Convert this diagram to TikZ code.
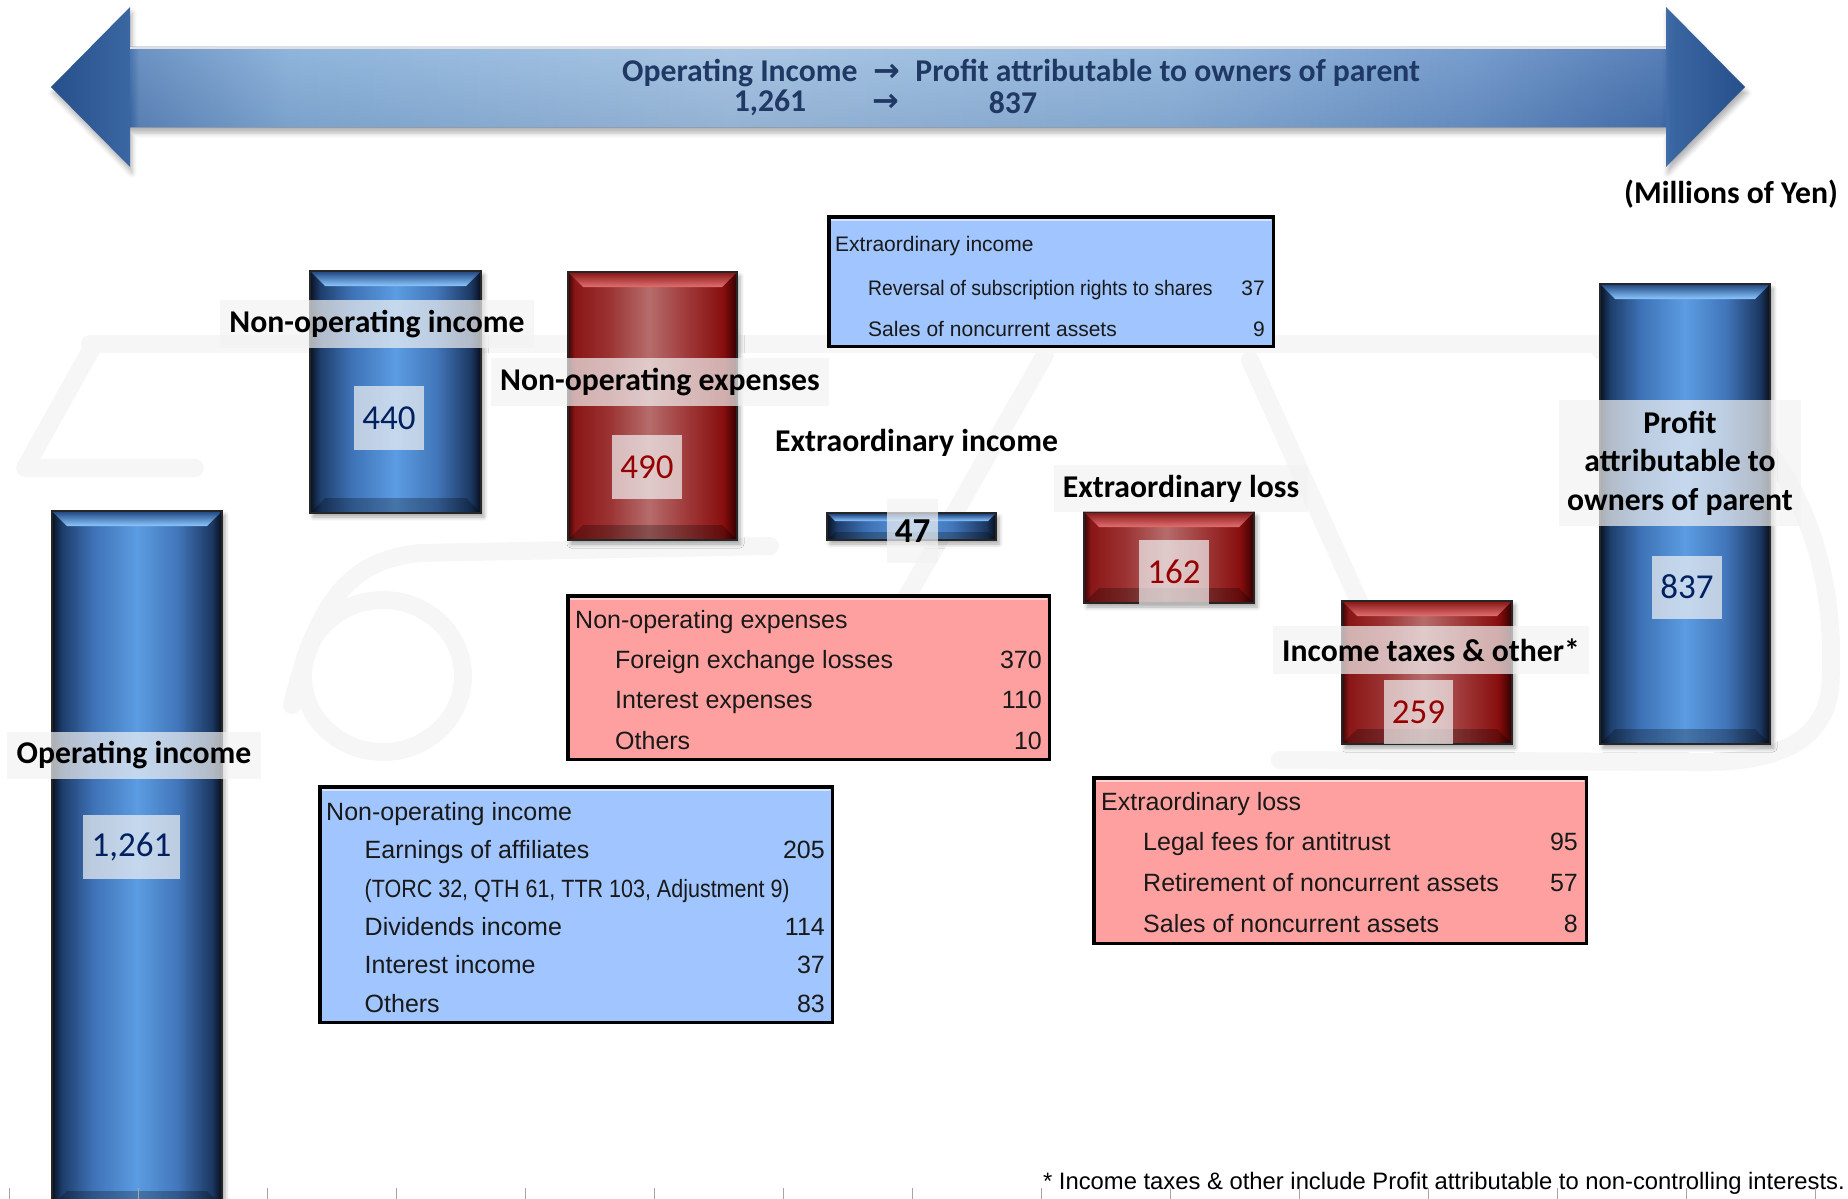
\documentclass[tikz,border=0pt]{standalone}
\usepackage{fontspec}
\setmainfont{Carlito}
\newfontfamily\arrowfont{DejaVu Sans}
\newfontfamily\boxfont{Liberation Sans}
\usetikzlibrary{shadows.blur}

\definecolor{navy}{RGB}{31,56,100}
\definecolor{valblue}{RGB}{0,32,96}
\definecolor{valred}{RGB}{150,0,0}
\definecolor{boxblue}{RGB}{160,197,255}
\definecolor{boxpink}{RGB}{255,160,160}
\definecolor{lblfill}{RGB}{242,242,242}
\definecolor{wmark}{RGB}{246,246,246}

\definecolor{bA}{RGB}{8,18,34}
\definecolor{bB}{RGB}{30,62,108}
\definecolor{bC}{RGB}{62,114,182}
\definecolor{bD}{RGB}{92,156,226}
\definecolor{bE}{RGB}{66,118,186}
\definecolor{bF}{RGB}{28,56,98}
\definecolor{bG}{RGB}{6,14,26}
\pgfdeclarehorizontalshading{bluebar}{100bp}{color(0bp)=(bA); color(25bp)=(bA); color(28bp)=(bB); color(37bp)=(bC); color(50bp)=(bD); color(62bp)=(bE); color(72bp)=(bF); color(75bp)=(bG); color(100bp)=(bG)}

\definecolor{rA}{RGB}{60,5,5}
\definecolor{rB}{RGB}{138,22,22}
\definecolor{rC}{RGB}{155,50,50}
\definecolor{rD}{RGB}{182,108,108}
\definecolor{rE}{RGB}{160,58,58}
\definecolor{rF}{RGB}{135,14,14}
\definecolor{rG}{RGB}{50,0,0}
\pgfdeclarehorizontalshading{redbar}{100bp}{color(0bp)=(rA); color(25bp)=(rA); color(27bp)=(rB); color(37bp)=(rC); color(49bp)=(rD); color(60bp)=(rE); color(71bp)=(rF); color(75bp)=(rG); color(100bp)=(rG)}

\definecolor{bluetop}{RGB}{38,78,136}
\definecolor{bluehi}{RGB}{140,200,255}
\definecolor{redtop}{RGB}{140,28,28}
\definecolor{redhi}{RGB}{226,112,112}

\definecolor{aA}{RGB}{38,80,140}
\definecolor{aB}{RGB}{58,102,162}
\definecolor{aB2}{RGB}{106,144,192}
\definecolor{aC}{RGB}{152,190,225}
\definecolor{aD}{RGB}{186,212,236}
\definecolor{aE}{RGB}{162,196,228}
\definecolor{aF}{RGB}{120,158,206}
\definecolor{aG}{RGB}{78,118,176}
\pgfdeclarehorizontalshading{arrowsh}{100bp}{color(0bp)=(aA); color(25bp)=(aA); color(27.3bp)=(aB); color(27.6bp)=(aB2); color(32bp)=(aC); color(45bp)=(aD); color(58bp)=(aE); color(67bp)=(aF); color(72.5bp)=(aG); color(72.8bp)=(aB); color(75bp)=(aA); color(100bp)=(aA)}

\newcommand{\fsz}[2]{\fontsize{#1}{#2}\selectfont}
\newcommand{\lblfont}{\fsz{31.7}{38.5}\bfseries}
\newcommand{\valfont}{\fsz{35}{38}}
\newcommand{\bxfont}{\boxfont\fsz{25}{28}}
\newcommand{\bxsmall}{\boxfont\fsz{21}{24}}
\newcommand{\bigarrow}{{\arrowfont\bfseries\fsz{32}{32}→}}

\newcommand{\barbox}[7]{%
  \node[bar#6, anchor=north west, minimum width={(#4)-(#2)}, minimum height={(#5)-(#3)}] (#1) at (#2,#3) {};
  \shade[top color=#6top, bottom color=#6hi]
    ([xshift=1.2pt,yshift=-1.2pt]#1.north west) -- ([xshift=-1.2pt,yshift=-1.2pt]#1.north east)
    -- ([xshift=-#7pt,yshift=-#7pt]#1.north east) -- ([xshift=#7pt,yshift=-#7pt]#1.north west) -- cycle;
  \fill[black, opacity=0.25]
    ([xshift=1.2pt,yshift=1.2pt]#1.south west) -- ([xshift=-1.2pt,yshift=1.2pt]#1.south east)
    -- ([xshift=-#7pt,yshift=#7pt]#1.south east) -- ([xshift=#7pt,yshift=#7pt]#1.south west) -- cycle;
}

\tikzset{
  barblue/.style={shading=bluebar, draw=black!85, line width=1.2pt, inner sep=0, outer sep=0,
    blur shadow={shadow xshift=3pt, shadow yshift=-4pt, shadow blur radius=4pt, shadow opacity=35}},
  barred/.style={shading=redbar, draw=black!85, line width=1.2pt, inner sep=0, outer sep=0,
    blur shadow={shadow xshift=3pt, shadow yshift=-4pt, shadow blur radius=4pt, shadow opacity=35}},
  lbl/.style={fill=lblfill, fill opacity=0.7, text opacity=1, inner sep=0, font=\lblfont, align=center},
  val/.style={fill=lblfill, fill opacity=0.7, text opacity=1, inner sep=0, font=\valfont},
  dbox/.style={draw=black, line width=3.5pt, inner sep=0, outer sep=0, anchor=north west},
  dt/.style={inner sep=0, anchor=mid west, font=\bxfont, text=black!90},
  dv/.style={inner sep=0, anchor=mid east, font=\bxfont, text=black!90},
  dts/.style={inner sep=0, anchor=mid west, font=\bxsmall, text=black!90},
  dvs/.style={inner sep=0, anchor=mid east, font=\bxsmall, text=black!90},
  wm/.style={draw=wmark, line width=18pt, line cap=round, line join=round},
}

\begin{document}
\begin{tikzpicture}[x=1pt, y=-1pt]
\useasboundingbox (0,0) rectangle (1848,1199);

% faint background watermark
\draw[wm] (90,344) -- (1600,344);
\draw[wm] (92,348) -- (25,468) -- (195,468);
\draw[wm] (383,676) ellipse [x radius=80, y radius=76];
\draw[wm] (292,705) .. controls (318,600) and (350,560) .. (420,553) -- (770,546);
\draw[wm] (1045,355) -- (905,600);
\draw[wm] (1250,360) -- (1372,630);
\draw[wm] (1600,350) .. controls (1760,380) and (1842,520) .. (1830,690)
  .. controls (1822,750) and (1760,764) .. (1690,762) -- (1280,760);

% top double arrow
\shade[shading=arrowsh, blur shadow={shadow xshift=2pt, shadow yshift=-6pt, shadow blur radius=5pt, shadow opacity=30}]
  (51,87) -- (130,7) -- (130,47) -- (1666,47) -- (1666,7) -- (1745,87) -- (1666,167) -- (1666,127) -- (130,127) -- (130,167) -- cycle;
\shade[top color=aF, middle color=white, bottom color=aA, opacity=0.25] (130,47) rectangle (1666,127);
\draw[white!75!gray, line width=2pt] (130,48.5) -- (1666,48.5);

\node[anchor=mid west, inner sep=0, font=\lblfont, text=navy] (t1) at (622,79)
  {Operating Income\hspace{16pt}\bigarrow\hspace{15pt}Profit attributable to owners of parent};
\node[inner sep=0, font=\lblfont, text=navy] (t2a) at (770,103) {1,261};
\node[inner sep=0, text=navy] (t2b) at (886,103) {\bigarrow};
\node[inner sep=0, font=\lblfont, text=navy] (t2c) at (1013,103) {837};

\node[inner sep=0, font=\lblfont] (unit) at (1731,194) {(Millions of Yen)};

% bars
\barbox{b1}{52}{511}{222}{1206}{blue}{15}
\barbox{b2}{310}{271}{481}{513}{blue}{15}
\barbox{b3}{568}{272}{737}{540}{red}{15}
\barbox{b4}{827}{513}{996}{540}{blue}{8}
\barbox{b5}{1084}{512}{1254}{603}{red}{15}
\barbox{b6}{1342}{601}{1512}{744}{red}{15}
\barbox{b7}{1600}{284}{1770}{744}{blue}{15}

% detail boxes
\node[dbox, fill=boxblue, minimum width=444.5, minimum height=129.5] (bxA) at (828.75,216.75) {};
\draw[white, opacity=0.55, line width=2pt] ([xshift=2.5pt,yshift=-3pt]bxA.north west) -- ([xshift=-2.5pt,yshift=-3pt]bxA.north east);
\node[dts] (a0) at (835,249) {Extraordinary income};
\node[dts] (a1) at (868,293) {\scalebox{0.922}[1]{Reversal of subscription rights to shares}};
\node[dvs] (a1v) at (1265,293) {37};
\node[dts] (a2) at (868,334) {Sales of noncurrent assets};
\node[dvs] (a2v) at (1265,334) {9};

\node[dbox, fill=boxpink, minimum width=481.5, minimum height=163.5] (bxB) at (567.75,595.75) {};
\draw[white, opacity=0.55, line width=2pt] ([xshift=2.5pt,yshift=-3pt]bxB.north west) -- ([xshift=-2.5pt,yshift=-3pt]bxB.north east);
\node[dt] (n0) at (575,626) {Non-operating expenses};
\node[dt] (n1) at (615,666.5) {Foreign exchange losses};
\node[dv] (n1v) at (1042,666.5) {370};
\node[dt] (n2) at (615,706.6) {Interest expenses};
\node[dv] (n2v) at (1042,706.6) {110};
\node[dt] (n3) at (615,746.7) {Others};
\node[dv] (n3v) at (1042,746.7) {10};

\node[dbox, fill=boxblue, minimum width=512.5, minimum height=235.5] (bxC) at (319.75,786.75) {};
\draw[white, opacity=0.55, line width=2pt] ([xshift=2.5pt,yshift=-3pt]bxC.north west) -- ([xshift=-2.5pt,yshift=-3pt]bxC.north east);
\node[dt] (c0) at (326,818) {Non-operating income};
\node[dt] (c1) at (364.5,856) {Earnings of affiliates};
\node[dv] (c1v) at (825,856) {205};
\node[dt] (c2) at (364.5,895) {\scalebox{0.86}[1]{(TORC 32, QTH 61, TTR 103, Adjustment 9)}};
\node[dt] (c3) at (364.5,933) {Dividends income};
\node[dv] (c3v) at (825,933) {114};
\node[dt] (c4) at (364.5,971) {Interest income};
\node[dv] (c4v) at (825,971) {37};
\node[dt] (c5) at (364.5,1010) {Others};
\node[dv] (c5v) at (825,1010) {83};

\node[dbox, fill=boxpink, minimum width=492.5, minimum height=165.5] (bxD) at (1093.75,777.75) {};
\draw[white, opacity=0.55, line width=2pt] ([xshift=2.5pt,yshift=-3pt]bxD.north west) -- ([xshift=-2.5pt,yshift=-3pt]bxD.north east);
\node[dt] (d0) at (1101,808.5) {Extraordinary loss};
\node[dt] (d1) at (1143,848) {Legal fees for antitrust};
\node[dv] (d1v) at (1578,848) {95};
\node[dt] (d2) at (1143,889) {Retirement of noncurrent assets};
\node[dv] (d2v) at (1578,889) {57};
\node[dt] (d3) at (1143,930.6) {Sales of noncurrent assets};
\node[dv] (d3v) at (1578,930.6) {8};

% labels on bars
\node[lbl, minimum width=254, minimum height=47] (l1) at (134,755) {Operating income};
\node[val, minimum width=97, minimum height=64, text=valblue] (v1) at (131.5,847) {1,261};
\node[lbl, minimum width=314, minimum height=48] (l2) at (377,324) {Non-operating income};
\node[val, minimum width=70, minimum height=64, text=valblue] (v2) at (389,418) {440};
\node[lbl, minimum width=338, minimum height=48] (l3) at (660,382) {Non-operating expenses};
\node[val, minimum width=70, minimum height=64, text=valred] (v3) at (647,467) {490};
\node[inner sep=0, font=\lblfont] (l4) at (916.5,443) {Extraordinary income};
\node[val, minimum width=51, minimum height=64, text=black, font=\valfont\bfseries] (v4) at (912.5,531) {47};
\node[lbl, minimum width=254, minimum height=47] (l5) at (1181,488.5) {Extraordinary loss};
\node[val, minimum width=70, minimum height=64, text=valred] (v5) at (1174,572) {162};
\node[lbl, minimum width=316, minimum height=48] (l6) at (1431,650) {Income taxes \& other*};
\node[val, minimum width=69, minimum height=64, text=valred] (v6) at (1418.5,712) {259};
\node[lbl, minimum width=242, minimum height=126] (l7) at (1680,463) {Profit\\attributable to\\owners of parent};
\node[val, minimum width=70, minimum height=63, text=valblue] (v7) at (1687,587) {837};

% footnote and ticks
\node[anchor=mid east, inner sep=0, font=\boxfont\fsz{23.8}{26}] (foot) at (1845,1187)
  {* Income taxes \& other include Profit attributable to non-controlling interests.};
\foreach \i in {0,...,14} \draw[gray!70, line width=1pt] ({9.5+129*\i},1188) -- ({9.5+129*\i},1199);
\end{tikzpicture}
\end{document}
